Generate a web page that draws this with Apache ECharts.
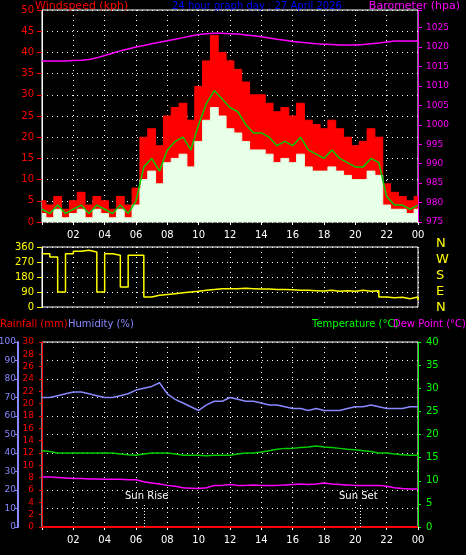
<!DOCTYPE html><html><head><meta charset="utf-8">
<script src="https://cdn.jsdelivr.net/npm/echarts@6/dist/echarts.min.js"></script>
<style>html,body{margin:0;background:#000}#c{width:466px;height:555px}</style></head><body><div id="c"></div>
<script>
const hours=[0,0.5,1,1.5,2,2.5,3,3.5,4,4.5,5,5.5,6,6.5,7,7.5,8,8.5,9,9.5,10,10.5,11,11.5,12,12.5,13,13.5,14,14.5,15,15.5,16,16.5,17,17.5,18,18.5,19,19.5,20,20.5,21,21.5,22,22.5,23,23.5,24];
const gust=[5,4,6,3,5,7,4,6,5,3,6,4,8,20,22,18,25,27,28,24,32,38,44,40,38,36,33,30,30,28,26,27,25,28,24,23,22,24,22,20,18,19,22,20,9,7,6,5,6];
const avgWind=[3,2,4,2,3,4,2,4,3,2,4,2,5,13,15,12,17,19,20,17,23,28,31,29,27,26,23,21,21,20,18,19,18,20,17,16,15,17,15,14,13,13,15,14,6,4,4,3,4];
const lull=[2,1,3,1,2,3,1,3,2,1,3,1,4,10,12,9,14,15,16,13,19,24,27,25,22,21,19,17,17,16,14,15,14,16,13,12,12,13,12,11,10,10,12,11,4,3,3,2,3];
const baro=[1016.4,1016.4,1016.4,1016.4,1016.5,1016.6,1016.8,1017.2,1017.8,1018.4,1019,1019.5,1020,1020.4,1020.8,1021.2,1021.6,1022,1022.4,1022.8,1023.2,1023.4,1023.5,1023.5,1023.4,1023.3,1023.1,1022.9,1022.6,1022.3,1022,1021.7,1021.4,1021.2,1021,1020.8,1020.7,1020.6,1020.5,1020.5,1020.5,1020.6,1020.8,1021,1021.3,1021.5,1021.5,1021.5,1021.5];
const windDir=[320,300,90,320,335,340,330,90,320,310,120,310,310,60,70,75,80,85,90,95,100,105,110,110,110,112,110,108,108,105,105,104,100,100,98,96,100,95,98,94,100,95,98,60,55,58,50,60,40];
const humidity=[70,70,71,72,73,73,72,71,70,70,71,72,74,75,76,78,72,69,67,65,63,66,68,68,70,69,68,68,67,66,66,65,64,64,63,64,63,63,63,64,65,65,66,65,64,64,64,65,65];
const temp=[16.5,16.3,16,16,16,16,16,16,16,16,15.8,15.6,15.5,15.8,16,16,16,15.8,15.5,15.5,15.5,15.4,15.5,15.5,15.5,15.8,16,16,16.2,16.5,16.8,17,17,17.2,17.3,17.5,17.3,17.2,17,16.8,16.7,16.5,16.3,16,16,15.8,15.6,15.5,15.5];
const dew=[10.8,10.8,10.7,10.6,10.5,10.5,10.4,10.4,10.3,10.3,10.3,10.2,10.2,9.8,9.5,9.3,9.0,8.8,8.5,8.4,8.3,8.5,9,9,9.2,9,9,9.1,9,9,9,9.1,9.2,9.3,9.2,9.3,9.5,9.3,9.2,9.1,9,9,9,9,8.8,8.5,8.3,8.2,8.2];
const rain=[0,0,0,0,0,0,0,0,0,0,0,0,0,0,0,0,0,0,0,0,0,0,0,0,0,0,0,0,0,0,0,0,0,0,0,0,0,0,0,0,0,0,0,0,0,0,0,0,0];
const sunRise=6.5, sunSet=20.33;
const dirLabels=['N','W','S','E','N'];
const pair=a=>hours.map((h,i)=>[h,a[i]]);
const F='DejaVu Sans';
const grid=(t,h)=>({left:42,right:48,top:t,height:h,show:true,borderColor:'#fff',borderWidth:1,backgroundColor:'#000',outerBoundsMode:'none',containLabel:false});
const split={show:true,lineStyle:{color:'#fff',type:[1,4],width:1}};
const xa=(gi,labels)=>({type:'value',gridIndex:gi,min:0,max:24,interval:2,axisLine:{show:false},axisTick:{show:labels,length:3,lineStyle:{color:'#fff'}},splitLine:split,
 axisLabel:{show:labels,color:'#fff',fontFamily:F,fontSize:10,formatter:v=>v==0?'':String(v%24).padStart(2,'0')}});
const ya=(gi,o)=>Object.assign({type:'value',gridIndex:gi,axisLine:{show:true,lineStyle:{color:'#fff'}},axisTick:{show:true,length:3},splitLine:{show:false},axisLabel:{fontFamily:F,fontSize:10}},o);
const opt={backgroundColor:'#000',animation:false,
grid:[grid(10,212),grid(247,60),grid(342,185)],
xAxis:[xa(0,true),xa(1,false),xa(2,true)],
yAxis:[
 ya(0,{position:'left',min:0,max:50,interval:5,splitLine:split,axisLabel:{color:'#f00',fontFamily:F,fontSize:10},axisTick:{lineStyle:{color:'#f00'}},axisLine:{show:true,lineStyle:{color:'#fff'}}}),
 ya(0,{position:'right',min:975,max:1029.5,interval:5,axisLine:{show:true,lineStyle:{color:'#f0f'}},axisTick:{show:true,length:4,lineStyle:{color:'#f0f'}},axisLabel:{color:'#f0f',fontFamily:F,fontSize:9,formatter:v=>v>1026?'':v}}),
 ya(1,{position:'left',min:0,max:360,interval:90,splitLine:split,axisLabel:{color:'#ff0',fontFamily:F,fontSize:10},axisTick:{lineStyle:{color:'#ff0'}}}),
 ya(2,{position:'left',min:0,max:30,interval:2,axisLine:{show:true,lineStyle:{color:'#f00'}},axisLabel:{color:'#f00',fontFamily:F,fontSize:9}}),
 ya(2,{position:'left',min:0,max:100,interval:10,offset:24,splitLine:split,axisLine:{show:true,lineStyle:{color:'#88f',width:2}},axisLabel:{color:'#88f',fontFamily:F,fontSize:9,margin:2}}),
 ya(2,{position:'right',min:0,max:40,interval:5,axisLine:{show:true,lineStyle:{color:'#0f0'}},axisLabel:{color:'#0f0',fontFamily:F,fontSize:10}})
],
series:[
 {type:'line',xAxisIndex:0,yAxisIndex:0,data:pair(gust),step:'middle',symbol:'none',lineStyle:{color:'#f00',width:1},areaStyle:{color:'#f00',opacity:1}},
 {type:'line',xAxisIndex:0,yAxisIndex:0,data:pair(lull),step:'middle',symbol:'none',lineStyle:{color:'#dfd',width:1},areaStyle:{color:'#e8ffe8',opacity:1}},
 {type:'line',xAxisIndex:0,yAxisIndex:0,data:pair(avgWind),symbol:'none',lineStyle:{color:'#0c0',width:1.5}},
 {type:'line',xAxisIndex:0,yAxisIndex:1,data:pair(baro),symbol:'none',lineStyle:{color:'#f0f',width:1.5}},
 {type:'line',xAxisIndex:1,yAxisIndex:2,data:pair(windDir),step:'end',symbol:'none',lineStyle:{color:'#ff0',width:1.5}},
 {type:'line',xAxisIndex:2,yAxisIndex:4,data:pair(humidity),symbol:'none',lineStyle:{color:'#88f',width:1.5}},
 {type:'line',xAxisIndex:2,yAxisIndex:5,data:pair(temp),symbol:'none',lineStyle:{color:'#0c0',width:1.5}},
 {type:'line',xAxisIndex:2,yAxisIndex:5,data:pair(dew),symbol:'none',lineStyle:{color:'#f0f',width:1.5},
  markLine:{symbol:'none',silent:true,label:{show:false},lineStyle:{color:'#fff',type:[1,2],width:1},data:[[{coord:[sunRise,0]},{coord:[sunRise,5]}],[{coord:[sunSet,0]},{coord:[sunSet,5]}]]}},
 {type:'line',xAxisIndex:2,yAxisIndex:3,data:pair(rain),symbol:'none',lineStyle:{color:'#f00',width:2}}
],
graphic:[
 {type:'text',left:35,top:1,style:{text:'Windspeed (kph)',fill:'#f00',font:'11px '+F}},
 {type:'text',left:172,top:1,style:{text:'24 hour graph day : 27 April 2026',fill:'#00f',font:'10px '+F}},
 {type:'text',right:6,top:1,style:{text:'Barometer (hpa)',fill:'#f0f',font:'11px '+F}},
 {type:'text',left:0,top:319,style:{text:'Rainfall (mm)',fill:'#f00',font:'10px '+F}},
 {type:'text',left:68,top:319,style:{text:'Humidity (%)',fill:'#88f',font:'10px '+F}},
 {type:'text',left:312,top:319,style:{text:'Temperature (°C)',fill:'#0f0',font:'10px '+F}},
 {type:'text',left:393,top:319,style:{text:'Dew Point (°C)',fill:'#f0f',font:'10px '+F}},
 {type:'text',left:125,top:491,style:{text:'Sun Rise',fill:'#fff',font:'10px '+F}},
 {type:'text',left:339,top:491,style:{text:'Sun Set',fill:'#fff',font:'10px '+F}},
 ...dirLabels.map((t,i)=>({type:'text',left:436,top:237+i*16,style:{text:t,fill:'#ff0',font:'13px '+F}}))
]};
echarts.init(document.getElementById('c')).setOption(opt);
</script></body></html>
